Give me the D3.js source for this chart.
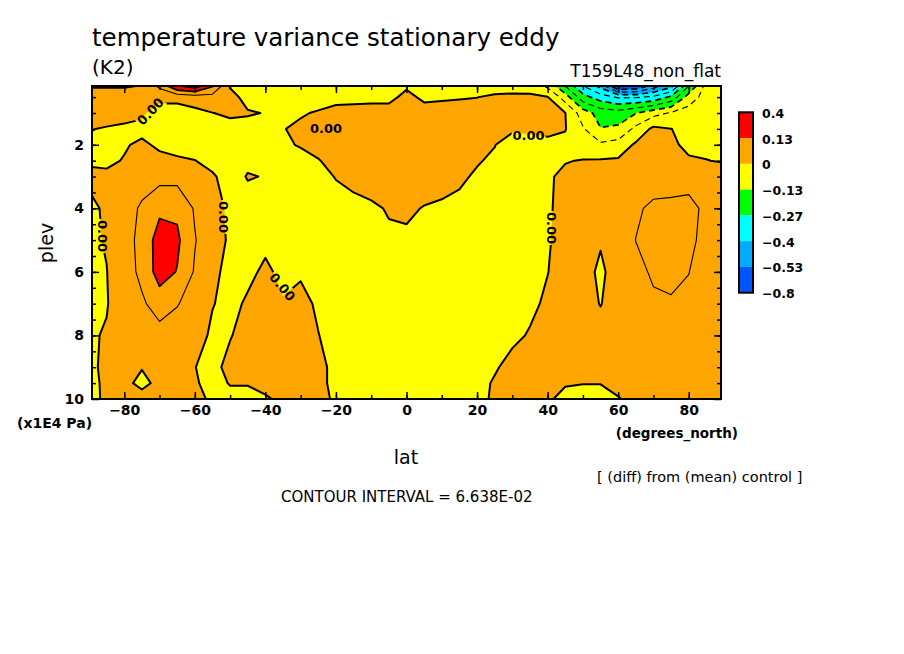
<!DOCTYPE html>
<html>
<head>
<meta charset="utf-8">
<script src="https://cdn.jsdelivr.net/npm/d3@7"></script>
<style>
  body { margin: 0; background: #fff; }
  svg { display: block; }
  text { font-family: "DejaVu Sans", sans-serif; fill: #000; }
</style>
</head>
<body>
<div id="chart"></div>
<script>
// grid coordinates
const lats = [-90, -85, -80, -75, -70, -65, -60, -55, -50, -45, -40, -35, -30, -25, -20, -15, -10, -5, 0,
  5, 10, 15, 20, 25, 30, 35, 40, 45, 50, 55, 60, 65, 70, 75, 80, 85, 90];
const plevs = [0.15, 0.5, 1, 1.5, 2, 2.5, 3, 4, 5, 6, 7, 8, 9, 9.5, 10];

// temperature variance diff, one row per plev (x1E4 Pa), columns follow lats
const p0_15 = [-0.01, -0.01, -0.01, 0.005, 0.08, 0.2, 0.24, 0.14, -0.005, -0.02,
  -0.03, -0.03, -0.03, -0.03, -0.03, -0.03, -0.025, -0.02, -0.01, -0.02,
  -0.025, -0.03, -0.03, -0.03, -0.03, -0.035, -0.08, -0.2, -0.33, -0.42,
  -0.62, -0.6, -0.5, -0.42, -0.2, -0.04, -0.02];
const p0_5 = [0.05, 0.05, 0.05, 0.04, 0.02, 0.02, 0.03, 0.04, 0.02, -0.02,
  -0.03, -0.03, -0.03, -0.025, -0.02, -0.02, -0.02, -0.02, 0.02, -0.015,
  -0.01, -0.005, -0.001, 0.01, 0.015, 0.015, 0.003, -0.1, -0.24, -0.3,
  -0.34, -0.34, -0.32, -0.25, -0.1, -0.04, -0.02];
const p1_0 = [0.03, 0.03, 0.02, 0.01, -0.03, -0.03, -0.015, -0.001, 0.01, 0.005,
  -0.002, -0.01, -0.005, 0.005, 0.02, 0.025, 0.03, 0.03, 0.035, 0.03,
  0.03, 0.03, 0.03, 0.035, 0.035, 0.03, 0.02, 0.001, -0.1, -0.16,
  -0.17, -0.135, -0.09, -0.06, -0.04, -0.03, -0.02];
const p1_5 = [0.003, -0.005, -0.01, -0.015, -0.02, -0.02, -0.025, -0.025, -0.02, -0.02,
  -0.02, -0.002, 0.01, 0.025, 0.03, 0.035, 0.035, 0.035, 0.04, 0.035,
  0.035, 0.03, 0.025, 0.02, 0.01, 0.012, 0.015, 0.003, -0.06, -0.13,
  -0.12, -0.05, 0.015, 0.001, -0.02, -0.02, -0.015];
const p2_0 = [-0.01, -0.015, -0.005, 0.01, -0.01, -0.015, -0.02, -0.03, -0.03, -0.03,
  -0.03, -0.01, 0.005, 0.02, 0.03, 0.035, 0.035, 0.035, 0.035, 0.035,
  0.03, 0.025, 0.015, 0.002, -0.03, -0.025, -0.015, -0.015, -0.04, -0.055,
  -0.04, 0.01, 0.02, 0.008, -0.01, -0.01, -0.01];
const p2_5 = [-0.003, -0.01, 0.003, 0.03, 0.015, 0.006, 0.001, -0.015, -0.03, -0.01,
  -0.02, -0.02, -0.02, -0.003, 0.02, 0.03, 0.035, 0.035, 0.035, 0.035,
  0.03, 0.02, 0.005, -0.01, -0.03, -0.03, -0.02, -0.003, 0.003, 0.005,
  0.008, 0.03, 0.04, 0.03, 0.005, 0.001, -0.003];
const p3_0 = [0.005, 0.01, 0.03, 0.04, 0.045, 0.045, 0.03, 0.006, -0.02, 0.003,
  -0.002, -0.025, -0.025, -0.02, 0.003, 0.02, 0.03, 0.035, 0.035, 0.03,
  0.025, 0.01, -0.008, -0.02, -0.025, -0.02, -0.007, 0.012, 0.025, 0.03,
  0.035, 0.045, 0.045, 0.05, 0.055, 0.04, 0.02];
const p4_0 = [-0.006, 0.004, 0.04, 0.075, 0.12, 0.12, 0.06, 0.02, -0.01, -0.02,
  -0.025, -0.03, -0.03, -0.03, -0.025, -0.02, -0.01, 0.005, 0.01, -0.003,
  -0.01, -0.015, -0.02, -0.02, -0.02, -0.015, -0.006, 0.015, 0.025, 0.03,
  0.04, 0.06, 0.075, 0.075, 0.075, 0.06, 0.04];
const p5_0 = [-0.008, 0.003, 0.035, 0.09, 0.16, 0.145, 0.07, 0.025, -0.008, -0.02,
  -0.01, -0.02, -0.025, -0.03, -0.03, -0.03, -0.025, -0.01, -0.01, -0.015,
  -0.02, -0.025, -0.025, -0.025, -0.025, -0.02, -0.005, 0.02, 0.03, 0.005,
  0.035, 0.067, 0.08, 0.08, 0.075, 0.055, 0.04];
const p6_0 = [-0.01, -0.001, 0.03, 0.085, 0.16, 0.13, 0.06, 0.008, -0.01, -0.01,
  0.008, -0.01, -0.005, -0.02, -0.03, -0.03, -0.03, -0.03, -0.03, -0.03,
  -0.03, -0.03, -0.03, -0.03, -0.025, -0.02, -0.001, 0.02, 0.02, -0.01,
  0.025, 0.055, 0.072, 0.075, 0.067, 0.05, 0.03];
const p7_0 = [-0.01, -0.003, 0.03, 0.055, 0.1, 0.07, 0.04, 0.002, -0.012, 0.006,
  0.02, 0.003, 0.012, -0.006, -0.02, -0.03, -0.03, -0.03, -0.03, -0.03,
  -0.03, -0.03, -0.03, -0.025, -0.02, -0.01, 0.008, 0.025, 0.02, -0.002,
  0.025, 0.045, 0.06, 0.063, 0.06, 0.05, 0.03];
const p8_0 = [-0.006, 0.004, 0.025, 0.035, 0.04, 0.035, 0.02, -0.008, -0.003, 0.02,
  0.03, 0.025, 0.02, 0.001, -0.015, -0.025, -0.03, -0.03, -0.03, -0.03,
  -0.03, -0.03, -0.025, -0.02, -0.01, 0.004, 0.015, 0.02, 0.02, 0.02,
  0.03, 0.04, 0.045, 0.045, 0.045, 0.04, 0.03];
const p9_0 = [-0.005, 0.005, 0.02, 0.002, 0.025, 0.02, 0.001, -0.015, 0.015, 0.02,
  0.02, 0.025, 0.02, 0.01, -0.01, -0.02, -0.025, -0.025, -0.025, -0.025,
  -0.025, -0.025, -0.02, -0.005, 0.015, 0.02, 0.02, 0.015, 0.01, 0.01,
  0.02, 0.03, 0.035, 0.035, 0.035, 0.03, 0.02];
const p9_5 = [-0.006, 0.004, 0.01, -0.01, 0.01, 0.015, 0.004, -0.012, 0.002, 0.002,
  0.008, 0.02, 0.02, 0.01, -0.01, -0.02, -0.02, -0.02, -0.02, -0.02,
  -0.02, -0.02, -0.015, 0.005, 0.02, 0.02, 0.01, 0.003, 0.001, 0.001,
  0.01, 0.02, 0.025, 0.03, 0.03, 0.025, 0.02];
const p10_0 = [-0.007, 0.004, 0.015, 0.015, 0.02, 0.02, 0.01, -0.006, -0.01, -0.01,
  -0.003, 0.005, 0.01, 0.004, -0.002, -0.02, -0.02, -0.02, -0.02, -0.02,
  -0.02, -0.02, -0.015, 0.008, 0.02, 0.02, 0.005, -0.01, -0.012, -0.012,
  -0.002, 0.01, 0.02, 0.025, 0.025, 0.02, 0.015];
const rows = [p0_15, p0_5, p1_0, p1_5, p2_0, p2_5, p3_0, p4_0, p5_0, p6_0, p7_0, p8_0, p9_0, p9_5, p10_0];

// contouring / shading
const contourInterval = 6.638e-2;
const shadeLevels = [-0.8, -0.53, -0.4, -0.27, -0.13, 0, 0.13, 0.4];
const shadeColors = ["#0055ff", "#00aaff", "#00ffff", "#00ff00", "#ffff00", "#ffa500", "#ff0000"];

// ticks
const xMajorTicks = [-80, -60, -40, -20, 0, 20, 40, 60, 80];
const xMinorTicks = [-80, -70, -60, -50, -40, -30, -20, -10, 0, 10, 20, 30, 40, 50, 60, 70, 80];
const yMajorTicks = [2, 4, 6, 8, 10];
const yMinorTicks = [0.5, 1, 1.5, 2, 2.5, 3, 3.5, 4, 4.5, 5, 5.5, 6, 6.5, 7, 7.5, 8, 8.5, 9, 9.5];

// "0.00" labels on the zero line
const zeroLabels = [
  { lat: -72.6, p: 0.95, angle: -47 },
  { lat: -22.8, p: 1.47, angle: 0 },
  { lat: 34.6, p: 1.69, angle: 0 },
  { lat: -51.9, p: 4.27, angle: 90 },
  { lat: -86.0, p: 4.87, angle: 90 },
  { lat: 41.1, p: 4.62, angle: 90 },
  { lat: -35.2, p: 6.47, angle: 50 },
];

const plot = { left: 92, top: 86, right: 721, bottom: 399 };

const svg = d3
  .select("#chart")
  .append("svg")
  .attr("width", 904)
  .attr("height", 654);

const x = d3.scaleLinear().domain([-89.14, 89.14]).range([plot.left, plot.right]);
const y = d3.scaleLinear().domain([0.15, 10]).range([plot.top, plot.bottom]);

// grid index -> data coordinates
const nx = lats.length;
const ny = plevs.length;
const grid = rows.flat();
const colToLat = d3.scaleLinear().domain(d3.range(nx)).range(lats).clamp(true);
const rowToPlev = d3.scaleLinear().domain(d3.range(ny)).range(plevs).clamp(true);
const gridTransform = d3.geoTransform({
  point(cx, cy) {
    this.stream.point(x(colToLat(cx - 0.5)), y(rowToPlev(cy - 0.5)));
  },
});
const path = d3.geoPath(gridTransform);
const snap = (v) => contourInterval * Math.round(v / contourInterval);

const defs = svg.append("defs");
defs
  .append("clipPath")
  .attr("id", "plot-clip")
  .append("rect")
  .attr("x", plot.left)
  .attr("y", plot.top)
  .attr("width", plot.right - plot.left)
  .attr("height", plot.bottom - plot.top);

// shaded bands
const bands = d3
  .contours()
  .size([nx, ny])
  .thresholds(shadeLevels.slice(0, shadeColors.length).map(snap))(grid);

const plotG = svg.append("g").attr("clip-path", "url(#plot-clip)");
plotG
  .selectAll("path.band")
  .data(bands)
  .join("path")
  .attr("class", "band")
  .attr("d", path)
  .attr("fill", (d, i) => shadeColors[i]);

// mask out the line under each label
const mask = defs
  .append("mask")
  .attr("id", "label-mask")
  .attr("maskUnits", "userSpaceOnUse")
  .attr("x", 0)
  .attr("y", 0)
  .attr("width", 904)
  .attr("height", 654);
mask.append("rect").attr("width", 904).attr("height", 654).attr("fill", "#fff");
mask
  .selectAll("rect.hole")
  .data(zeroLabels)
  .join("rect")
  .attr("class", "hole")
  .attr("x", -17)
  .attr("y", -7)
  .attr("width", 34)
  .attr("height", 14)
  .attr("fill", "#000")
  .attr("transform", (d) => `translate(${x(d.lat)},${y(d.p)}) rotate(${d.angle})`);

// contour lines
const steps = d3.range(-12, 7);
const lines = d3
  .contours()
  .size([nx, ny])
  .thresholds(steps.map((k) => k * contourInterval))(grid);

plotG
  .append("g")
  .attr("mask", "url(#label-mask)")
  .selectAll("path.line")
  .data(lines)
  .join("path")
  .attr("class", "line")
  .attr("d", path)
  .attr("fill", "none")
  .attr("stroke", "#000")
  .attr("stroke-linejoin", "round")
  .attr("stroke-width", (d, i) => (steps[i] === 0 ? 2 : steps[i] % 2 === 0 ? 1.7 : 1.1))
  .attr("stroke-dasharray", (d, i) => (steps[i] < 0 ? "6,4" : null));

plotG
  .selectAll("text.zero")
  .data(zeroLabels)
  .join("text")
  .attr("class", "zero")
  .attr("transform", (d) => `translate(${x(d.lat)},${y(d.p)}) rotate(${d.angle})`)
  .attr("text-anchor", "middle")
  .attr("dy", "0.36em")
  .attr("font-size", 13)
  .attr("font-weight", "bold")
  .text("0.00");

// axes
function styleAxis(g) {
  g.select(".domain").remove();
  g.selectAll(".tick line").attr("stroke", "#000").attr("stroke-width", 1.5);
  g.selectAll("text")
    .attr("font-family", "DejaVu Sans")
    .attr("font-size", 14)
    .attr("font-weight", "bold")
    .attr("fill", "#000");
}

svg
  .append("g")
  .attr("transform", `translate(0,${plot.bottom})`)
  .call(d3.axisBottom(x).tickValues(xMajorTicks).tickSize(-7).tickPadding(6).tickFormat(d3.format("d")))
  .call(styleAxis);
svg
  .append("g")
  .attr("transform", `translate(0,${plot.bottom})`)
  .call(d3.axisBottom(x).tickValues(xMinorTicks).tickSize(-4).tickFormat(""))
  .call(styleAxis);
svg
  .append("g")
  .attr("transform", `translate(0,${plot.top})`)
  .call(d3.axisTop(x).tickValues(xMajorTicks).tickSize(-7).tickFormat(""))
  .call(styleAxis);
svg
  .append("g")
  .attr("transform", `translate(0,${plot.top})`)
  .call(d3.axisTop(x).tickValues(xMinorTicks).tickSize(-4).tickFormat(""))
  .call(styleAxis);

svg
  .append("g")
  .attr("transform", `translate(${plot.left},0)`)
  .call(d3.axisLeft(y).tickValues(yMajorTicks).tickSize(-7).tickPadding(8).tickFormat(d3.format("d")))
  .call(styleAxis);
svg
  .append("g")
  .attr("transform", `translate(${plot.left},0)`)
  .call(d3.axisLeft(y).tickValues(yMinorTicks).tickSize(-4).tickFormat(""))
  .call(styleAxis);
svg
  .append("g")
  .attr("transform", `translate(${plot.right},0)`)
  .call(d3.axisRight(y).tickValues(yMajorTicks).tickSize(-7).tickFormat(""))
  .call(styleAxis);
svg
  .append("g")
  .attr("transform", `translate(${plot.right},0)`)
  .call(d3.axisRight(y).tickValues(yMinorTicks).tickSize(-4).tickFormat(""))
  .call(styleAxis);

// frame
svg
  .append("rect")
  .attr("x", plot.left)
  .attr("y", plot.top)
  .attr("width", plot.right - plot.left)
  .attr("height", plot.bottom - plot.top)
  .attr("fill", "none")
  .attr("stroke", "#000")
  .attr("stroke-width", 2);

// legend
const legendY = d3.scaleLinear().domain([0, shadeColors.length]).range([112.3, 292.7]);
const legendColors = shadeColors.slice().reverse();
const legendValues = shadeLevels.slice().reverse();
const legend = svg.append("g").attr("id", "legend");
legend
  .selectAll("rect.swatch")
  .data(legendColors)
  .join("rect")
  .attr("class", "swatch")
  .attr("x", 739)
  .attr("y", (d, i) => legendY(i))
  .attr("width", 14)
  .attr("height", (d, i) => legendY(i + 1) - legendY(i))
  .attr("fill", (d) => d);
legend
  .append("rect")
  .attr("x", 739)
  .attr("y", legendY(0))
  .attr("width", 14)
  .attr("height", legendY(shadeColors.length) - legendY(0))
  .attr("fill", "none")
  .attr("stroke", "#000")
  .attr("stroke-width", 2);
legend
  .selectAll("text")
  .data(legendValues)
  .join("text")
  .attr("x", 762)
  .attr("y", (d, i) => legendY(i) + 1)
  .attr("dy", "0.36em")
  .attr("font-size", 12.5)
  .attr("font-weight", "bold")
  .text((d) => d3.format("~g")(d));

// titles and axis names
svg.append("text").attr("x", 92).attr("y", 46).attr("font-size", 24.5)
  .text("temperature variance stationary eddy");
svg.append("text").attr("x", 92).attr("y", 74).attr("font-size", 20).text("(K2)");
svg.append("text").attr("x", 721).attr("y", 77).attr("font-size", 17)
  .attr("text-anchor", "end").text("T159L48_non_flat");
svg.append("text").attr("x", 17).attr("y", 428).attr("font-size", 14)
  .attr("font-weight", "bold").text("(x1E4 Pa)");
svg.append("text").attr("x", 738).attr("y", 438).attr("font-size", 13.5)
  .attr("font-weight", "bold").attr("text-anchor", "end").text("(degrees_north)");
svg.append("text").attr("x", 406).attr("y", 464).attr("font-size", 19)
  .attr("text-anchor", "middle").text("lat");
svg.append("text").attr("transform", "translate(53,243) rotate(-90)").attr("font-size", 19)
  .attr("text-anchor", "middle").text("plev");
svg.append("text").attr("x", 597).attr("y", 482).attr("font-size", 14.5)
  .text("[ (diff) from (mean) control ]");
svg.append("text").attr("x", 281).attr("y", 502).attr("font-size", 15)
  .text("CONTOUR INTERVAL = 6.638E-02");
</script>
</body>
</html>
